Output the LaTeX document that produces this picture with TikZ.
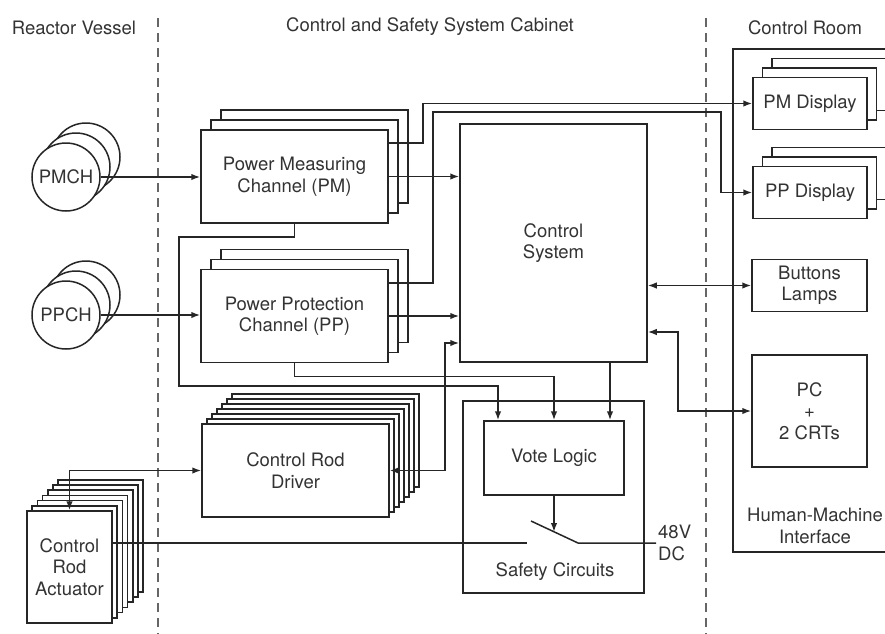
\documentclass[tikz,border=0pt]{standalone}
\usepackage{fontspec}
\setmainfont{TeX Gyre Heros}
\usetikzlibrary{positioning,calc,arrows.meta}

\begin{document}
\begin{tikzpicture}[
  x=1pt, y=-1pt,
  every node/.style = {font=\fontsize{18.5}{21.5}\selectfont, text=black!80,
                        align=center},
  blk/.style        = {draw=black!85, line width=1.5pt, fill=white, inner sep=0pt},
  chan/.style       = {blk, minimum width=187pt, minimum height=93pt},
  disp/.style       = {blk, minimum width=114pt, minimum height=52pt},
  ring/.style       = {blk, circle, minimum size=68pt},
  wire/.style       = {draw=black!85, line width=1.5pt},
  arr/.style        = {wire, -{Latex[length=9pt,width=6.5pt]}},
  biarr/.style      = {wire, {Latex[length=9pt,width=6.5pt]}-{Latex[length=9pt,width=6.5pt]}},
  divider/.style    = {draw=black!60, line width=1.5pt, dash pattern=on 9pt off 6pt},
]
\useasboundingbox (0,0) rectangle (885,633);
\clip (0,0) rectangle (885,633);

% ── REGION headers and dividers ───────────────────────────────────────────────
\node (hdrRV)  at (74,28)  {Reactor Vessel};
\node (hdrCab) at (430,27) {Control and Safety System Cabinet};
\node (hdrCR)  at (805,28) {Control Room};

\draw[divider] (158,18) -- (158,640);
\draw[divider] (706,18) -- (706,640);

% ── HMI frame (runs off the right edge) ───────────────────────────────────────
\node[blk, fill=none, anchor=north west, minimum width=170pt,
      minimum height=503pt] (HMI) at (732,48) {};
\node (HMIlbl) at (815,526) {Human-Machine\\Interface};

% ── SENSORS (reactor vessel) ──────────────────────────────────────────────────
\foreach \k in {2,1}
  \node[ring] at ($(66,177)+(10*\k,-10*\k)$) {};
\node[ring] (PMCH) at (66,177) {PMCH};

\foreach \k in {2,1}
  \node[ring] at ($(66,315)+(10*\k,-10*\k)$) {};
\node[ring] (PPCH) at (66,315) {PPCH};

% ── CHANNELS ──────────────────────────────────────────────────────────────────
\foreach \k in {2,1}
  \node[chan] at ($(294.5,176.5)+(10*\k,-10*\k)$) {};
\node[chan] (PM) at (294.5,176.5) {Power Measuring\\Channel (PM)};

\foreach \k in {2,1}
  \node[chan] at ($(294.5,316)+(10*\k,-10*\k)$) {};
\node[chan] (PP) at (294.5,316) {Power Protection\\Channel (PP)};

% ── CONTROL SYSTEM ────────────────────────────────────────────────────────────
\node[blk, minimum width=187pt, minimum height=238pt] (CS) at (553.5,243)
  {Control\\System};

% ── ROD DRIVER and ACTUATOR ───────────────────────────────────────────────────
\foreach \k in {6,...,1}
  \node[chan] at ($(295.5,470.5)+(5*\k,-5*\k)$) {};
\node[chan] (CRD) at (295.5,470.5) {Control Rod\\Driver};

\foreach \k in {6,...,1}
  \node[blk, minimum width=85pt, minimum height=112pt]
    at ($(69.5,567)+(5.2*\k,-5.2*\k)$) {};
\node[blk, minimum width=85pt, minimum height=112pt] (CRA) at (69.5,567)
  {Control\\Rod\\Actuator};

% ── SAFETY CIRCUITS ───────────────────────────────────────────────────────────
\node[blk, fill=none, minimum width=181pt, minimum height=192pt] (SC) at (553.5,497) {};
\node (SClbl) at (555,572) {Safety Circuits};
\node[blk, minimum width=140pt, minimum height=74pt] (VL) at (554,458) {Vote Logic};

\coordinate (swL) at (527,543);
\coordinate (swA) at (531,521);
\coordinate (swB) at (578,543);
\node[anchor=west, inner sep=2pt, align=left] (DC) at (656,543) {48V\\DC};

% ── CONTROL ROOM units ────────────────────────────────────────────────────────
\foreach \k in {2,1}
  \node[disp] at ($(810,103.5)+(9.5*\k,-9.5*\k)$) {};
\node[disp] (PMD) at (810,103.5) {PM Display};

\foreach \k in {2,1}
  \node[disp] at ($(810,192.5)+(9.5*\k,-9.5*\k)$) {};
\node[disp] (PPD) at (810,192.5) {PP Display};

\node[disp, minimum width=115pt] (BL) at (809.5,285.5) {Buttons\\Lamps};
\node[blk, minimum width=115pt, minimum height=112pt] (PC) at (809.5,411)
  {PC\\+\\2 CRTs};

% ── CONNECTIONS sensors -> channels -> control ────────────────────────────────
\draw[arr] (PMCH.east) -- (PMCH.east -| PM.west);
\draw[arr] (PPCH.east) -- (PPCH.east -| PP.west);
\draw[arr] (PM.east) -- (PM.east -| CS.west);
\draw[arr] (PP.east) -- (PP.east -| CS.west);

% ── CONNECTIONS channels -> displays ──────────────────────────────────────────
\draw[arr] ($(PM.east)+(0,-33.5)$) -- ++(34,0) |- (PMD.west);
\draw[arr] ($(PP.east)+(0,-33)$) -- ++(44,0) -- ++(0,-171) -- ++(288,0)
  |- (PPD.west);

% ── CONNECTIONS control <-> HMI ───────────────────────────────────────────────
\draw[biarr] (CS.east |- BL.west) -- (BL.west);
\draw[biarr] ($(CS.east)+(0,89)$) -- ++(30,0) |- (PC.west);

% ── CONNECTIONS to vote logic ─────────────────────────────────────────────────
\coordinate (pmloop) at (179,386);
\draw[arr] (PM.south) -- ++(0,13) -| (pmloop) -| ($(VL.north)+(-56,0)$);
\draw[arr] (PP.south) -- ++(0,13) -| (VL.north);
\draw[arr] ($(CS.south)+(56.5,0)$) -- ($(VL.north)+(56,0)$);

% ── CONNECTIONS rod driver ────────────────────────────────────────────────────
\draw[biarr] (CRD.east) -- ++(55,0) |- ($(CS.west)+(0,100)$);
\draw[biarr] (CRA.north) |- (CRD.west);

% ── SWITCH (48 V DC supply) ───────────────────────────────────────────────────
\draw[wire] ($(CRA.east)+(0,-24)$) -- (swL);
\draw[wire] (swA) -- (swB) -- (DC.west);
\draw[arr] (VL.south) -- (VL.south |- {$(swA)!0.5!(swB)$});

\end{tikzpicture}
\end{document}
